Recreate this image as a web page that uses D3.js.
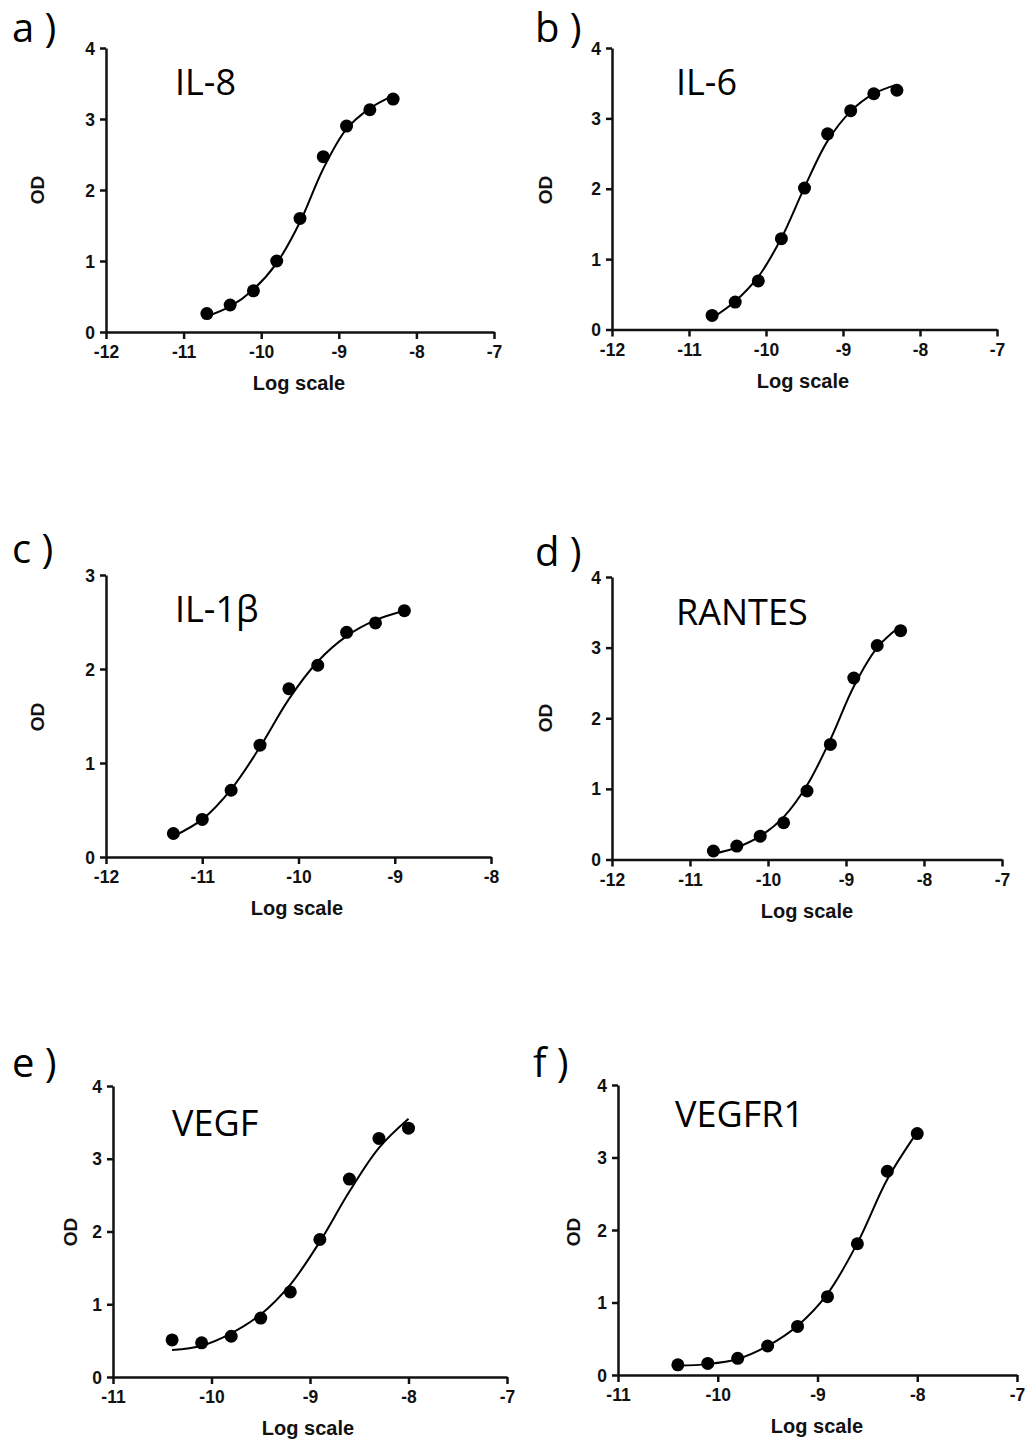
<!DOCTYPE html>
<html>
<head>
<meta charset="utf-8">
<script src="https://cdn.jsdelivr.net/npm/d3@7"></script>
<style>
  body { margin: 0; background: #fff; }
  svg { display: block; }
</style>
</head>
<body>
<script>
// panel letters and analyte names
const panelLetters = ["a )", "b )", "c )", "d )", "e )", "f )"];
const analytes = ["IL-8", "IL-6", "IL-1β", "RANTES", "VEGF", "VEGFR1"];

// log concentrations of the standards (x values)
const logConcMid = [-10.7, -10.4, -10.1, -9.8, -9.5, -9.2, -8.9, -8.6, -8.3];
const logConcLow = [-11.3, -11.0, -10.7, -10.4, -10.1, -9.8, -9.5, -9.2, -8.9];
const logConcHigh = [-10.4, -10.1, -9.8, -9.5, -9.2, -8.9, -8.6, -8.3, -8.0];

// measured OD (dots)
const odIL8 = [0.26, 0.38, 0.58, 1.0, 1.6, 2.47, 2.9, 3.13, 3.28];
const odIL6 = [0.2, 0.39, 0.69, 1.29, 2.01, 2.78, 3.11, 3.35, 3.4];
const odIL1b = [0.25, 0.4, 0.71, 1.19, 1.79, 2.04, 2.39, 2.49, 2.62];
const odRANTES = [0.12, 0.19, 0.33, 0.52, 0.97, 1.63, 2.57, 3.03, 3.24];
const odVEGF = [0.51, 0.47, 0.56, 0.81, 1.17, 1.89, 2.72, 3.28, 3.42];
const odVEGFR1 = [0.14, 0.16, 0.23, 0.4, 0.67, 1.08, 1.81, 2.81, 3.33];

// fitted curve read at the same x values
const fitIL8 = [0.22, 0.36, 0.6, 0.97, 1.55, 2.3, 2.86, 3.15, 3.33];
const fitIL6 = [0.16, 0.4, 0.75, 1.3, 2.02, 2.68, 3.1, 3.35, 3.48];
const fitIL1b = [0.22, 0.4, 0.72, 1.17, 1.68, 2.08, 2.35, 2.52, 2.62];
const fitRANTES = [0.08, 0.17, 0.33, 0.6, 1.05, 1.7, 2.45, 3.0, 3.31];
const fitVEGF = [0.37, 0.43, 0.6, 0.86, 1.27, 1.86, 2.55, 3.15, 3.55];
const fitVEGFR1 = [0.13, 0.15, 0.22, 0.4, 0.68, 1.12, 1.82, 2.7, 3.35];

// axis ticks
const xTicksWide = [-12, -11, -10, -9, -8, -7];
const xTicksShort = [-12, -11, -10, -9, -8];
const xTicksHigh = [-11, -10, -9, -8, -7];
const yTicks4 = [0, 1, 2, 3, 4];
const yTicks3 = [0, 1, 2, 3];

const panels = [
  { x: logConcMid, od: odIL8, fit: fitIL8, xt: xTicksWide, yt: yTicks4 },
  { x: logConcMid, od: odIL6, fit: fitIL6, xt: xTicksWide, yt: yTicks4 },
  { x: logConcLow, od: odIL1b, fit: fitIL1b, xt: xTicksShort, yt: yTicks3 },
  { x: logConcMid, od: odRANTES, fit: fitRANTES, xt: xTicksWide, yt: yTicks4 },
  { x: logConcHigh, od: odVEGF, fit: fitVEGF, xt: xTicksHigh, yt: yTicks4 },
  { x: logConcHigh, od: odVEGFR1, fit: fitVEGFR1, xt: xTicksHigh, yt: yTicks4 }
];

// pixel layout of each panel
const layout = [
  { left: 106, right: 494, top: 48, bottom: 332, lx: 12, ly: 42, tx: 175, ty: 95, odx: 37, ody: 190, logx: 299 },
  { left: 612, right: 997, top: 48, bottom: 329.5, lx: 535, ly: 42, tx: 676, ty: 95, odx: 545, ody: 190, logx: 803 },
  { left: 106, right: 491, top: 575, bottom: 857, lx: 12, ly: 563, tx: 175, ty: 622, odx: 37, ody: 717, logx: 297 },
  { left: 612, right: 1002, top: 577, bottom: 859.5, lx: 535, ly: 566, tx: 676, ty: 625, odx: 545, ody: 718, logx: 807 },
  { left: 113, right: 507, top: 1086, bottom: 1377, lx: 12, ly: 1077, tx: 172, ty: 1136, odx: 70, ody: 1232, logx: 308 },
  { left: 618, right: 1017, top: 1085, bottom: 1375, lx: 533, ly: 1077, tx: 675, ty: 1127, odx: 573, ody: 1232, logx: 817 }
];

const svg = d3.select("body").append("svg")
  .attr("width", 1028)
  .attr("height", 1447);

const axisFont = "'Liberation Sans', Arial, sans-serif";
const labelFont = "'Open Sans', 'Noto Sans', sans-serif";
const squeeze = 0.92;

panels.forEach((p, i) => {
  const L = layout[i];
  const g = svg.append("g");

  const x = d3.scaleLinear()
    .domain(d3.extent(p.xt))
    .range([L.left, L.right]);
  const y = d3.scaleLinear()
    .domain(d3.extent(p.yt))
    .range([L.bottom, L.top]);

  // x axis
  const xa = g.append("g")
    .attr("transform", `translate(0,${L.bottom})`)
    .call(d3.axisBottom(x).tickValues(p.xt).tickSize(7).tickSizeOuter(0).tickPadding(6)
      .tickFormat(d => String(d)));

  // y axis
  const ya = g.append("g")
    .attr("transform", `translate(${L.left},0)`)
    .call(d3.axisLeft(y).tickValues(p.yt).tickSize(6).tickSizeOuter(0).tickPadding(5)
      .tickFormat(d => String(d)));

  [xa, ya].forEach(a => {
    a.select(".domain").style("stroke", "#111").style("stroke-width", "2.5px");
    a.selectAll(".tick line").style("stroke", "#111").style("stroke-width", "2.5px");
    a.selectAll(".tick text")
      .attr("transform", `scale(${squeeze},1)`)
      .style("fill", "#111")
      .style("font-family", axisFont)
      .style("font-size", "19px")
      .style("font-weight", "bold");
  });
  // compensate the horizontal squeeze on y tick labels
  ya.selectAll(".tick text").attr("x", -11 / squeeze);

  // fitted curve
  const line = d3.line()
    .x((d, j) => x(p.x[j]))
    .y(d => y(d))
    .curve(d3.curveCatmullRom.alpha(0.5));

  g.append("path")
    .attr("d", line(p.fit))
    .attr("fill", "none")
    .attr("stroke", "#000")
    .attr("stroke-width", 2);

  // data points
  g.selectAll(".dot")
    .data(p.od)
    .enter()
    .append("circle")
    .attr("class", "dot")
    .attr("cx", (d, j) => x(p.x[j]))
    .attr("cy", d => y(d))
    .attr("r", 6.5)
    .attr("fill", "#000");

  // axis titles
  g.append("text")
    .attr("x", L.logx)
    .attr("y", L.bottom + 58)
    .attr("text-anchor", "middle")
    .style("font-family", axisFont)
    .style("font-weight", "bold")
    .style("font-size", "20px")
    .style("fill", "#111")
    .text("Log scale");

  g.append("text")
    .attr("transform", `translate(${L.odx},${L.ody}) rotate(-90)`)
    .attr("text-anchor", "middle")
    .attr("dy", "0.35em")
    .style("font-family", axisFont)
    .style("font-weight", "bold")
    .style("font-size", "19px")
    .style("fill", "#111")
    .text("OD");

  // analyte name
  g.append("text")
    .attr("x", L.tx)
    .attr("y", L.ty)
    .style("font-family", labelFont)
    .style("font-size", "36px")
    .style("fill", "#000")
    .text(analytes[i]);

  // panel letter
  g.append("text")
    .attr("x", L.lx)
    .attr("y", L.ly)
    .style("font-family", labelFont)
    .style("font-size", "40px")
    .style("fill", "#000")
    .text(panelLetters[i]);
});
</script>
</body>
</html>
